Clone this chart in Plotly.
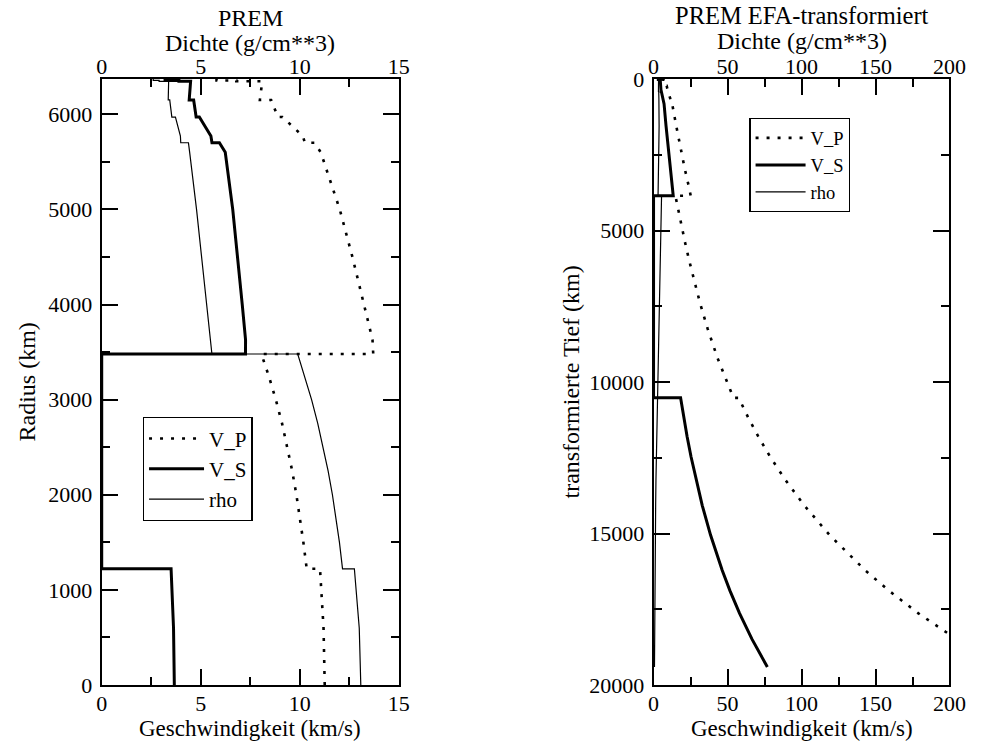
import plotly.graph_objects as go

# ---------------- PREM (left panel): radius vs velocity / density ----------------
radius_km = [0, 600, 1221.5, 1221.5, 1500, 1750, 2000, 2250, 2500, 2750,
             3000, 3250, 3480, 3480, 3630, 4000, 4500, 5000, 5600, 5701,
             5701, 5771, 5971, 5971, 6151, 6151, 6291, 6346.6, 6346.6, 6356,
             6356, 6371]
vp_prem = [11.266, 11.206, 11.028, 10.356, 10.188, 10.021, 9.835, 9.624, 9.384, 9.110,
           8.796, 8.438, 8.065, 13.717, 13.680, 13.245, 12.665, 12.025, 11.066, 10.751,
           10.266, 10.158, 9.134, 8.905, 8.559, 7.990, 8.076, 8.111, 6.800, 6.800,
           5.800, 5.800]
vs_prem = [3.668, 3.628, 3.504, 0, 0, 0, 0, 0, 0, 0,
           0, 0, 0, 7.265, 7.266, 7.100, 6.873, 6.619, 6.241, 5.945,
           5.570, 5.516, 4.932, 4.770, 4.644, 4.419, 4.471, 4.491, 3.900, 3.900,
           3.200, 3.200]
rho_prem = [13.089, 13.010, 12.764, 12.166, 12.010, 11.845, 11.655, 11.437, 11.191, 10.913,
            10.602, 10.255, 9.903, 5.567, 5.491, 5.307, 5.055, 4.790, 4.443, 4.381,
            3.992, 3.976, 3.724, 3.543, 3.436, 3.360, 3.375, 3.381, 2.900, 2.900,
            2.600, 2.600]

# ---------------- PREM EFA-transformed (right panel): depth vs values ----------------
depth_efa = [0, 15.0, 15.0, 24.4, 24.4, 80.5, 223.9, 223.9, 413.1, 413.1,
             630.2, 707.9, 707.9, 821.8, 1543.8, 2215.1, 2965.5, 3583.8, 3852.7, 3852.7,
             4288.3, 4798.3, 5352.6, 5959.8, 6631.1, 7381.5, 8232.2, 9214.3, 10522.8, 10522.8,
             11190.3, 11797.5, 12468.8, 13219.2, 14069.9, 15052.0, 16213.4, 16884.7, 17635.3, 18486.0,
             19405.1]
vp_efa = [5.800, 5.814, 6.816, 6.826, 8.142, 8.179, 8.276, 8.865, 9.502, 9.746,
          11.214, 11.473, 12.015, 12.589, 15.322, 17.931, 21.097, 24.010, 25.112, 14.765,
          16.540, 18.679, 21.105, 23.915, 27.252, 31.329, 36.482, 43.270, 54.012, 57.521,
          64.130, 70.753, 78.825, 88.891, 101.803, 118.987, 143.004, 158.999, 178.979, 204.654,
          236.504]
vs_efa = [3.200, 3.208, 3.909, 3.915, 4.508, 4.527, 4.577, 4.810, 5.090, 5.263,
          6.090, 6.225, 6.644, 7.100, 8.434, 9.730, 11.308, 12.753, 13.300, 0,
          0, 0, 0, 0, 0, 0, 0, 0, 0, 18.277,
          20.475, 22.669, 25.335, 28.651, 32.893, 38.528, 46.386, 51.614, 58.140, 66.521,
          76.908]
rho_efa = [2.600, 2.594, 2.893, 2.889, 3.368, 3.332, 3.244, 3.317, 3.321, 3.490,
           3.601, 3.572, 3.920, 3.905, 3.759, 3.570, 3.332, 3.129, 3.041, 5.410,
           5.231, 4.992, 4.710, 4.391, 4.039, 3.659, 3.254, 2.828, 2.333, 2.447,
           2.214, 2.020, 1.824, 1.626, 1.426, 1.225, 1.023, 0.921, 0.820, 0.718,
           0.622]

series_names = ["V_P", "V_S", "rho"]

FONT = "Liberation Serif, Times New Roman, Times, serif"
W, H = 987, 742
MT, MB = 79, 57
PH = H - MT - MB


def py(ypix):
    return (H - MB - ypix) / PH


DOT = "3px,8px"
styles = [dict(color="black", width=2.6, dash=DOT),
          dict(color="black", width=3.0),
          dict(color="black", width=1.2)]

fig = go.Figure()
# left: velocities on bottom axis (x), density on top axis (x3)
for name, vals, st, xa in zip(series_names, [vp_prem, vs_prem, rho_prem], styles, ["x", "x", "x3"]):
    fig.add_trace(go.Scatter(x=vals, y=radius_km, mode="lines", name=name, line=st,
                             xaxis=xa, yaxis="y", legend="legend"))
# right: velocities on bottom axis (x2), density on top axis (x4)
for name, vals, st, xa in zip(series_names, [vp_efa, vs_efa, rho_efa], styles, ["x2", "x2", "x4"]):
    fig.add_trace(go.Scatter(x=vals, y=depth_efa, mode="lines", name=name, line=st,
                             xaxis=xa, yaxis="y2", legend="legend2"))

tickfont = dict(family=FONT, size=22, color="black")


def ax(**kw):
    d = dict(showline=True, linewidth=2, linecolor="black", mirror="ticks",
             ticks="inside", ticklen=16, tickwidth=1.5, tickcolor="black",
             showgrid=False, zeroline=False, tickfont=tickfont, fixedrange=True,
             tickformat="d")
    d.update(kw)
    return d


def mn(dt):
    return dict(ticks="inside", ticklen=8, tickwidth=1.5, tickcolor="black", dtick=dt, showgrid=False)


def topax(over, anchor, rng, dt):
    return dict(overlaying=over, side="top", anchor=anchor, range=rng, dtick=dt,
                showline=False, ticks="", showgrid=False, zeroline=False,
                tickfont=tickfont, fixedrange=True, tickformat="d")


dom1 = [98 / W, 402 / W]
dom2 = [663 / W, 966 / W]

fig.update_layout(
    width=W, height=H,
    margin=dict(l=0, r=0, t=MT, b=MB),
    paper_bgcolor="white", plot_bgcolor="white",
    font=dict(family=FONT, size=22, color="black"),
    xaxis=ax(domain=dom1, range=[0, 15], dtick=5, anchor="y", minor=mn(2.5), ticklabelstandoff=-2),
    yaxis=ax(domain=[0, 1], range=[0, 6371], dtick=1000, anchor="x", minor=mn(500), ticklabelstandoff=3),
    xaxis2=ax(domain=dom2, range=[0, 200], dtick=50, anchor="y2", minor=mn(25), ticklabelstandoff=-2),
    yaxis2=ax(domain=[0, 1], range=[20000, 0], dtick=5000, anchor="x2", minor=mn(2500), ticklabelstandoff=3),
    xaxis3=topax("x", "y", [0, 15], 5),
    xaxis4=topax("x2", "y2", [0, 200], 50),
    legend=dict(x=140 / W, y=py(417), xanchor="left", yanchor="top",
                bordercolor="black", borderwidth=1.3, bgcolor="white",
                font=dict(family=FONT, size=21, color="black"), itemwidth=55,
                tracegroupgap=0),
    legend2=dict(x=761 / W, y=py(118), xanchor="left", yanchor="top",
                 bordercolor="black", borderwidth=1.3, bgcolor="white",
                 font=dict(family=FONT, size=18.5, color="black"), itemwidth=50,
                 tracegroupgap=0),
    showlegend=True,
)

annots = [
    ("PREM", 250 / W, py(18), 0, 24),
    ("Dichte (g/cm**3)", 250 / W, py(43), 0, 24),
    ("Geschwindigkeit (km/s)", 250 / W, py(728), 0, 23),
    ("Radius (km)", 22 / W, py(382), -90, 24),
    ("PREM EFA-transformiert", 814.5 / W, py(16), 0, 24.5),
    ("Dichte (g/cm**3)", 814.5 / W, py(41), 0, 24),
    ("Geschwindigkeit (km/s)", 814.5 / W, py(728), 0, 23),
    ("transformierte Tief (km)", 578 / W, py(382), -90, 24),
]
for text, x, y, ang, fs in annots:
    fig.add_annotation(text=text, x=x, y=y, xref="paper", yref="paper",
                       xanchor="center", yanchor="middle", showarrow=False,
                       textangle=ang, font=dict(family=FONT, size=fs, color="black"))

fig.write_html("out.html")
